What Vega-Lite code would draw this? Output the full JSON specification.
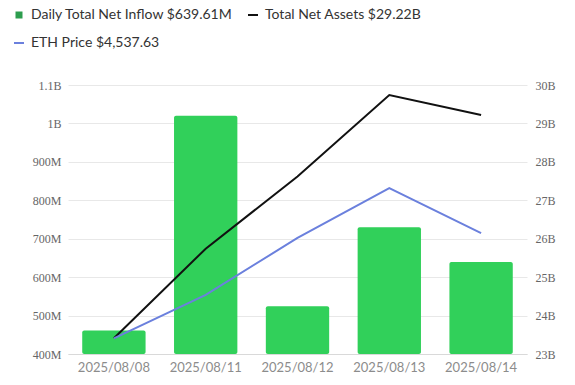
{
  "$schema": "https://vega.github.io/schema/vega-lite/v6.json",
  "width": 459,
  "height": 269,
  "autosize": "none",
  "padding": {"left": 68, "top": 85, "right": 48, "bottom": 31},
  "background": "white",
  "config": {"view": {"stroke": null}},
  "data": {"values": [
    {"date": "2025/08/08", "inflow": 461000000, "assets": 23410000000, "eth": 4042},
    {"date": "2025/08/11", "inflow": 1020000000, "assets": 25740000000, "eth": 4247},
    {"date": "2025/08/12", "inflow": 524000000, "assets": 27620000000, "eth": 4515},
    {"date": "2025/08/13", "inflow": 730000000, "assets": 29740000000, "eth": 4750},
    {"date": "2025/08/14", "inflow": 639610000, "assets": 29220000000, "eth": 4537.63}
  ]},
  "layer": [
    {
      "mark": {"type": "bar", "color": "#31d05a", "cornerRadius": 2},
      "encoding": {
        "x": {"field": "date", "type": "ordinal", "sort": null,
          "scale": {"paddingInner": 0.31, "paddingOuter": 0.155},
          "axis": {"title": null, "labelAngle": 0, "labelFont": "Lato", "labelFontSize": 13, "labelColor": "#8c8c8c", "domainColor": "#d9d9d9", "ticks": false, "labelPadding": 7, "grid": false}},
        "y": {"field": "inflow", "type": "quantitative",
          "scale": {"domain": [400000000, 1100000000], "nice": false, "zero": false},
          "axis": {"title": null, "values": [400000000, 500000000, 600000000, 700000000, 800000000, 900000000, 1000000000, 1100000000],
            "labelExpr": "datum.value >= 1e9 ? format(datum.value/1e9, '~g') + 'B' : format(datum.value/1e6, '~g') + 'M'",
            "labelFont": "Liberation Serif", "labelFontSize": 12, "labelColor": "#666", "ticks": false, "domain": false, "gridColor": "#e8e8e8", "labelPadding": 7}},
        "y2": {"datum": 400000000}
      }
    },
    {
      "mark": {"type": "line", "color": "#111111", "strokeWidth": 2},
      "encoding": {
        "x": {"field": "date", "type": "ordinal", "sort": null},
        "y": {"field": "assets", "type": "quantitative",
          "scale": {"domain": [23000000000, 30000000000], "nice": false, "zero": false},
          "axis": {"orient": "right", "title": null, "values": [23000000000, 24000000000, 25000000000, 26000000000, 27000000000, 28000000000, 29000000000, 30000000000],
            "labelExpr": "format(datum.value/1e9, '~g') + 'B'",
            "labelFont": "Liberation Serif", "labelFontSize": 12, "labelColor": "#666", "ticks": false, "domain": false, "grid": false, "labelPadding": 8}}
      }
    },
    {
      "mark": {"type": "line", "color": "#6b80dd", "strokeWidth": 2},
      "encoding": {
        "x": {"field": "date", "type": "ordinal", "sort": null},
        "y": {"field": "eth", "type": "quantitative",
          "scale": {"domain": [3968, 5236], "nice": false, "zero": false}, "axis": null}
      }
    },
    {
      "data": {"values": [
        {"series": "Daily Total Net Inflow $639.61M"},
        {"series": "ETH Price $4,537.63"},
        {"series": "Total Net Assets $29.22B"}
      ]},
      "mark": {"type": "point", "opacity": 0, "filled": true},
      "encoding": {
        "color": {"field": "series", "type": "nominal",
          "scale": {"domain": ["Daily Total Net Inflow $639.61M", "ETH Price $4,537.63", "Total Net Assets $29.22B"], "range": ["#2d9d4e", "#6b80dd", "#111111"]},
          "legend": {"title": null, "orient": "none", "legendX": -56, "legendY": -77, "columns": 2, "columnPadding": 12, "rowPadding": 14, "symbolSize": 100, "symbolOpacity": 1, "labelFont": "Lato", "labelFontSize": 14, "labelColor": "#333333", "labelOffset": 5, "padding": 0, "labelLimit": 400}},
        "shape": {"field": "series", "type": "nominal",
          "scale": {"domain": ["Daily Total Net Inflow $639.61M", "ETH Price $4,537.63", "Total Net Assets $29.22B"], "range": ["M-0.7,-0.7H0.7V0.7H-0.7Z", "M-1,-0.2H1V0.2H-1Z", "M-1,-0.2H1V0.2H-1Z"]},
          "legend": {"title": null, "orient": "none", "legendX": -56, "legendY": -77, "columns": 2, "columnPadding": 12, "rowPadding": 14, "symbolSize": 100, "symbolOpacity": 1, "labelFont": "Lato", "labelFontSize": 14, "labelColor": "#333333", "labelOffset": 5, "padding": 0, "labelLimit": 400}}
      }
    }
  ],
  "resolve": {"scale": {"y": "independent"}}
}
